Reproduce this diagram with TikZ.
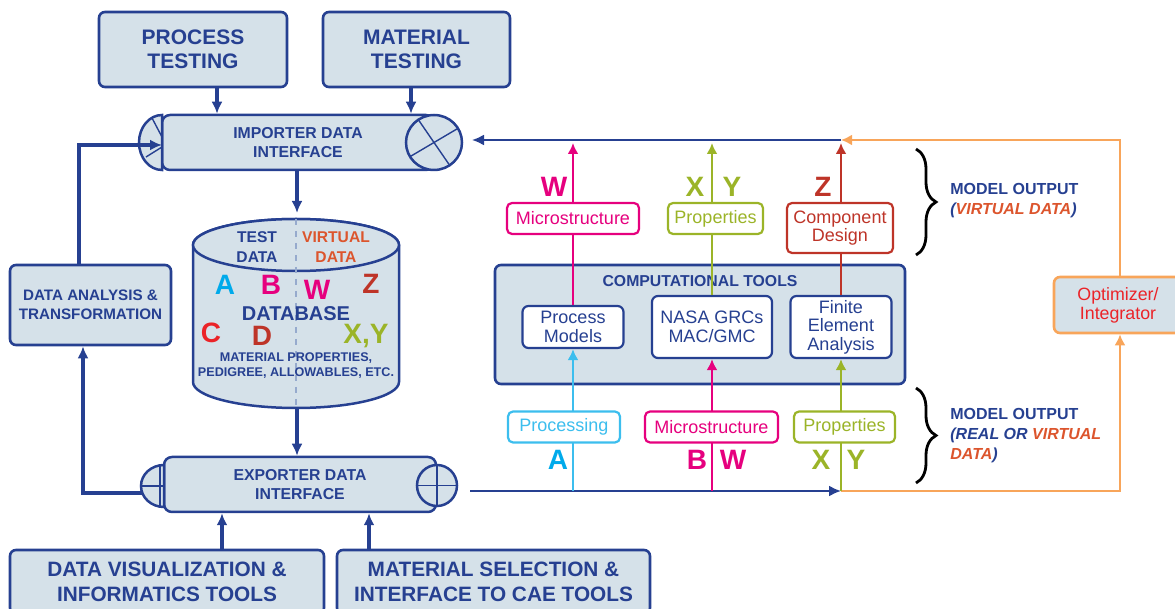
\documentclass[tikz,border=0pt]{standalone}
\usepackage{fontspec}
\setmainfont{Liberation Sans}
\usetikzlibrary{arrows.meta,positioning,calc,decorations.pathreplacing}
\definecolor{navy}{RGB}{38,64,145}
\definecolor{panel}{RGB}{213,225,233}
\definecolor{cyanTag}{RGB}{60,190,238}
\definecolor{cyanTxt}{RGB}{0,170,235}
\definecolor{magTag}{RGB}{230,0,126}
\definecolor{oliveTag}{RGB}{155,180,40}
\definecolor{brickTag}{RGB}{190,52,40}
\definecolor{redTxt}{RGB}{235,35,40}
\definecolor{orangeLn}{RGB}{248,165,90}
\definecolor{virtTxt}{RGB}{220,85,45}
\definecolor{dashLn}{RGB}{150,170,205}
\newcommand{\fsz}[2]{\fontsize{#1}{#2}\selectfont}
\tikzset{
    every node/.append style={align=center,inner sep=1pt},
    tbox/.style={rectangle,draw=navy,fill=panel,line width=1.3pt,rounded corners=3pt,
        text=navy,font=\bfseries\fsz{10.5}{12}},
    iface/.style={rectangle,draw=navy,fill=panel,line width=1.25pt,rounded corners=4pt,
        text=navy,font=\bfseries\fsz{7.9}{9.5},minimum width=136pt,minimum height=27.5pt},
    endcap/.style={draw=navy,fill=panel,line width=1.25pt},
    capline/.style={draw=navy,line width=0.7pt},
    cbox/.style={rectangle,draw=navy,fill=white,line width=1.1pt,rounded corners=3pt,
        text=navy,font=\fsz{9}{9.3}},
    tag/.style={rectangle,draw=#1,text=#1,fill=white,line width=1.1pt,rounded corners=2.5pt,
        font=\fsz{9}{9.3},minimum height=15.5pt},
    ltr/.style={text=#1,font=\bfseries\fsz{14}{14}},
    arr/.style={-{Latex[length=6pt,width=5.5pt]},draw=navy,line width=1.6pt},
    tarr/.style={-{Latex[length=6pt,width=5.5pt]},draw=navy,line width=1pt},
    carr/.style={-{Latex[length=5.5pt,width=5.5pt]},draw=#1,line width=1.1pt},
    brc/.style={decorate,decoration={brace,amplitude=10pt},line width=1.4pt},
    note/.style={anchor=west,align=left,text=navy,font=\bfseries\fsz{8}{10}}
}

\begin{document}
\begin{tikzpicture}[x=0.5pt,y=-0.5pt]
    \useasboundingbox (0,0) rectangle (1175,609);
    % testing sources
    \node[tbox,minimum width=94pt,minimum height=37.5pt]   (ptest) at (193,49.5)  {PROCESS\\TESTING};
    \node[tbox,minimum width=93.5pt,minimum height=37.5pt] (mtest) at (416.5,49.5) {MATERIAL\\TESTING};

    % importer interface
    \node[iface] (imp) at (298,142.5) {IMPORTER DATA\\INTERFACE};
    \coordinate (impc) at (434,142.5);
    \draw[endcap] (162,115) arc[start angle=90,end angle=270,x radius=11.5pt,y radius=13.75pt] -- cycle;
    \draw[capline] (152,118) -- (162,137) (146,157) -- (162,147);
    \draw[endcap] (impc) ellipse[x radius=14pt,y radius=13.75pt];
    \draw[capline] ($(impc)+(124:14pt and 13.75pt)$) -- ($(impc)+(-56:14pt and 13.75pt)$);
    \draw[capline] ($(impc)+(31:14pt and 13.75pt)$) -- ($(impc)+(211:14pt and 13.75pt)$);

    % database
    \coordinate (dbtop) at (297,213);
    \coordinate (dbbot) at (297,408);
    \draw[endcap] (193,245) -- (193,382) arc[start angle=180,end angle=360,x radius=51.5pt,y radius=13pt]
        -- (399,245) arc[start angle=0,end angle=180,x radius=51.5pt,y radius=13pt] -- cycle;
    \draw[endcap] (296,245) ellipse[x radius=51.5pt,y radius=13pt];
    \draw[dashLn,dashed,line width=0.8pt] (296,219) -- (296,408);
    \node[text=navy,font=\bfseries\fsz{7.8}{10}]    (tdat) at (257,247) {TEST\\DATA};
    \node[text=virtTxt,font=\bfseries\fsz{7.8}{10}] (vdat) at (336,247) {VIRTUAL\\DATA};
    \node[ltr=cyanTxt]  (dbA) at (225,285) {A};
    \node[ltr=magTag]   (dbB) at (271,285) {B};
    \node[ltr=magTag]   (dbW) at (317,290) {W};
    \node[ltr=brickTag] (dbZ) at (371,284) {Z};
    \node[text=navy,font=\bfseries\fsz{10}{10}] (dbname) at (296,314) {DATABASE};
    \node[ltr=redTxt]   (dbC)  at (211,333) {C};
    \node[ltr=brickTag] (dbD)  at (262,336) {D};
    \node[ltr=oliveTag] (dbXY) at (366,336) {X,Y};
    \node[text=navy,font=\bfseries\fsz{6.3}{7.5}] (dbinfo) at (296,365.5) {MATERIAL PROPERTIES,\\PEDIGREE, ALLOWABLES, ETC.};

    % analysis loop
    \node[tbox,font=\bfseries\fsz{7.6}{9.5},minimum width=80.5pt,minimum height=40pt] (dana) at (90.5,305) {DATA ANALYSIS \&\\TRANSFORMATION};

    % exporter interface
    \node[iface] (exp) at (300,484.5) {EXPORTER DATA\\INTERFACE};
    \coordinate (expc) at (437,485.5);
    \draw[endcap] (164,465) arc[start angle=90,end angle=270,x radius=11.5pt,y radius=10.5pt] -- cycle;
    \draw[capline] (141,486) -- (164,486) (160,465.5) -- (160,506.5);
    \draw[endcap] (expc) ellipse[x radius=10pt,y radius=10.25pt];
    \draw[capline] ($(expc)+(-10pt,0)$) -- ($(expc)+(10pt,0)$) ($(expc)+(0,10.25pt)$) -- ($(expc)+(0,-10.25pt)$);

    % consumer tools
    \node[tbox,font=\bfseries\fsz{10.4}{12.5},minimum width=157pt,minimum height=32pt]   (dvis) at (167,582)   {DATA VISUALIZATION \&\\INFORMATICS TOOLS};
    \node[tbox,font=\bfseries\fsz{10.4}{12.5},minimum width=156.5pt,minimum height=32pt] (msel) at (493.5,582) {MATERIAL SELECTION \&\\INTERFACE TO CAE TOOLS};

    % computational tools
    \node[tbox,minimum width=205pt,minimum height=59.5pt] (ctools) at (700,324.5) {};
    \node[text=navy,font=\bfseries\fsz{7.9}{9}] (ctitle) at (700,281) {COMPUTATIONAL TOOLS};
    \node[cbox,minimum width=50.5pt,minimum height=21pt] (pmod) at (573,327) {Process\\Models};
    \node[cbox,minimum width=60pt,minimum height=31pt]   (grc)  at (712,327) {NASA GRCs\\MAC/GMC};
    \node[cbox,minimum width=50.5pt,minimum height=31pt] (fea)  at (841,327) {Finite\\Element\\Analysis};

    % optimizer
    \node[tbox,draw=orangeLn,text=redTxt,font=\fsz{8.9}{9.5},minimum width=64pt,minimum height=28pt] (opt) at (1118,305) {Optimizer/\\Integrator};

    \coordinate (jt) at (841,140);
    \coordinate (jb) at (841,491);
    \coordinate (impret) at (472,140);
    \coordinate (impin) at (162,145);
    \coordinate (expin) at (142,493);
    \coordinate (expout) at (470,491);

    \draw[arr] ([xshift=12pt]ptest.south) -- ([xshift=12pt]ptest.south |- imp.north);
    \draw[arr] ([xshift=-2.75pt]mtest.south) -- ([xshift=-2.75pt]mtest.south |- imp.north);
    \draw[arr] (imp.south -| dbtop) -- (dbtop);
    \draw[arr] (dbbot) -- (dbbot |- exp.north);
    \draw[arr] ([xshift=-5.75pt]dana.north) |- (impin);
    \draw[arr] (expin) -| ([xshift=-3.75pt]dana.south);
    \draw[arr] ([xshift=27.5pt]dvis.north) -- ([xshift=27.5pt]dvis.north |- exp.south);
    \draw[arr] ([xshift=-62.25pt]msel.north) -- ([xshift=-62.25pt]msel.north |- exp.south);

    % data bus to the models and back
    \draw[tarr] (expout) -- (jb);
    \draw[carr=orangeLn] (jb) -| ([xshift=1pt]opt.south);
    \draw[carr=orangeLn] ([xshift=1pt]opt.north) |- (jt);
    \draw[tarr] (jt) -- (impret);
    \draw[carr=cyanTag]  (pmod.south |- jb) -- (pmod.south);
    \draw[carr=magTag]   (grc.south |- jb) -- (grc.south);
    \draw[carr=oliveTag] (fea.south |- jb) -- (fea.south);
    \draw[carr=magTag]   (pmod.north) -- ([yshift=-1.5pt]pmod.north |- jt);
    \draw[carr=oliveTag] (grc.north) -- ([yshift=-1.5pt]grc.north |- jt);
    \draw[carr=brickTag] (fea.north) -- ([yshift=-1.5pt]jt);

    % tags on the lines
    \node[tag=cyanTag,minimum width=56pt]   (tprocB) at (564,427)   {Processing};
    \node[tag=magTag,minimum width=66.5pt]  (tmicB)  at (711.5,427) {Microstructure};
    \node[tag=oliveTag,minimum width=50.5pt](tpropB) at (844.5,427) {Properties};
    \node[tag=magTag,minimum width=66pt]    (tmicT)  at (573,218.5) {Microstructure};
    \node[tag=oliveTag,minimum width=47.5pt](tpropT) at (715.5,218.5) {Properties};
    \node[tag=brickTag,minimum width=53pt,minimum height=25pt] (tcomp) at (840,228) {Component\\Design};

    \node[ltr=magTag]   (wT) at (554,187) {W};
    \node[ltr=oliveTag] (xT) at (695,187) {X};
    \node[ltr=oliveTag] (yT) at (732,187) {Y};
    \node[ltr=brickTag] (zT) at (823,187) {Z};
    \node[ltr=cyanTxt]  (aB) at (558,460) {A};
    \node[ltr=magTag]   (bB) at (697,460) {B};
    \node[ltr=magTag]   (wB) at (733,460) {W};
    \node[ltr=oliveTag] (xB) at (821,460) {X};
    \node[ltr=oliveTag] (yB) at (856,460) {Y};

    % model output braces
    \draw[brc] (916,149) -- (916,255);
    \draw[brc] (916,388) -- (916,483);
    \node[note] (mout1) at (948,201) {MODEL OUTPUT\\{\itshape(\textcolor{virtTxt}{VIRTUAL DATA})}};
    \node[note] (mout2) at (948,436) {MODEL OUTPUT\\{\itshape(REAL OR \textcolor{virtTxt}{VIRTUAL}}\\{\itshape\textcolor{virtTxt}{DATA})}};
\end{tikzpicture}
\end{document}
